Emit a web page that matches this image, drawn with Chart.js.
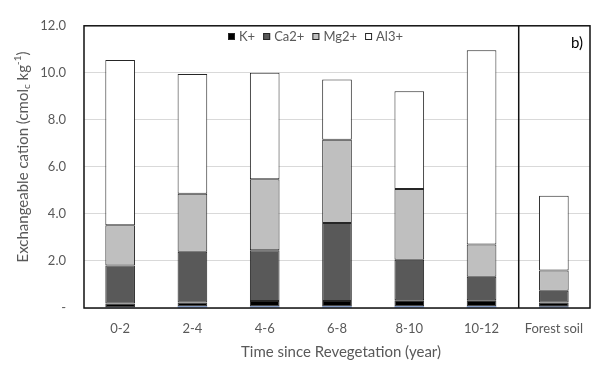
<!DOCTYPE html>
<html><head><meta charset="utf-8">
<script src="https://cdn.jsdelivr.net/npm/chart.js@4/dist/chart.umd.min.js"></script>
<style>html,body{margin:0;padding:0;background:#fff}</style>
</head><body>
<canvas id="c" width="596" height="365" style="width:596px;height:365px;display:block"></canvas>
<script>
const categories = ['0-2', '2-4', '4-6', '6-8', '8-10', '10-12', 'Forest soil'];
const naValues = [0.03, 0.06, 0.06, 0.06, 0.06, 0.06, 0.05];
const kValues  = [0.16, 0.17, 0.24, 0.24, 0.27, 0.27, 0.18];
const caValues = [1.62, 2.16, 2.16, 3.31, 1.72, 1.00, 0.50];
const mgValues = [1.71, 2.47, 3.01, 3.54, 3.01, 1.37, 0.86];
const alValues = [7.03, 5.09, 4.53, 2.57, 4.16, 8.26, 3.18];
const yTickLabels = ['-', '2.0', '4.0', '6.0', '8.0', '10.0', '12.0'];
const legendLabels = ['K+', 'Ca2+', 'Mg2+', 'Al3+'];
const xTitle = 'Time since Revegetation (year)';
const panelLabel = 'b)';

const FONT = 'Lato, "Open Sans", sans-serif';
const GREY = '#595959';

const overlay = {
  id: 'overlay',
  afterDraw(chart) {
    const ctx = chart.ctx, a = chart.chartArea, x = chart.scales.x;
    ctx.save();
    ctx.strokeStyle = '#111';
    ctx.lineWidth = 1.5;
    ctx.strokeRect(a.left, a.top, a.right - a.left, a.bottom - a.top);
    const xd = (x.getPixelForValue(5) + x.getPixelForValue(6)) / 2 + 1;
    ctx.beginPath(); ctx.moveTo(xd, a.top); ctx.lineTo(xd, a.bottom); ctx.stroke();
    const ds = chart.data.datasets.filter(d => legendLabels.includes(d.label));
    ctx.font = '13px ' + FONT;
    ctx.textBaseline = 'middle';
    let lx = 228; const ly = 37;
    ds.forEach(d => {
      ctx.fillStyle = d.backgroundColor;
      ctx.fillRect(lx, ly - 4, 7, 7);
      ctx.strokeStyle = '#262626'; ctx.lineWidth = 1;
      ctx.strokeRect(lx + 0.5, ly - 3.5, 6, 6);
      ctx.fillStyle = GREY;
      ctx.textAlign = 'left';
      ctx.fillText(d.label, lx + 11, ly);
      lx += 11 + ctx.measureText(d.label).width + 8;
    });
    ctx.fillStyle = '#000';
    ctx.font = '15px ' + FONT;
    ctx.textAlign = 'center';
    ctx.fillText(panelLabel, 577, 43);
    ctx.fillStyle = GREY;
    ctx.font = '15px ' + FONT;
    ctx.fillText(xTitle, 341, 352);
    const parts = [
      ['Exchangeable cation (cmol', 15, 0],
      ['c', 10, 4],
      [' kg', 15, 0],
      ['-1', 10, -5],
      [')', 15, 0]
    ];
    let total = 0;
    parts.forEach(p => { ctx.font = p[1] + 'px ' + FONT; total += ctx.measureText(p[0]).width; });
    ctx.translate(23, 157);
    ctx.rotate(-Math.PI / 2);
    ctx.textAlign = 'left';
    let px = -total / 2;
    parts.forEach(p => {
      ctx.font = p[1] + 'px ' + FONT;
      ctx.fillText(p[0], px, p[2]);
      px += ctx.measureText(p[0]).width;
    });
    ctx.restore();
  }
};

const mk = (label, data, color, bw) => ({
  label, data, backgroundColor: color, borderColor: '#262626', borderWidth: bw,
  barPercentage: 0.41, categoryPercentage: 1.0, borderSkipped: false
});

new Chart(document.getElementById('c'), {
  type: 'bar',
  data: {
    labels: categories,
    datasets: [
      mk('Na+', naValues, '#4472c4', 0),
      mk('K+', kValues, '#000000', 1),
      mk('Ca2+', caValues, '#595959', 1),
      mk('Mg2+', mgValues, '#bfbfbf', 1),
      mk('Al3+', alValues, '#ffffff', 1)
    ]
  },
  options: {
    responsive: false,
    devicePixelRatio: 1,
    animation: false,
    layout: { padding: { left: 0, right: -3, top: 16, bottom: 0 } },
    plugins: { legend: { display: false }, tooltip: { enabled: false } },
    scales: {
      x: {
        stacked: true,
        grid: { display: false, drawTicks: false },
        border: { display: false },
        ticks: { color: GREY, font: { size: 13, family: FONT }, padding: 13, maxRotation: 0, autoSkip: false },
        afterFit(s) { s.height = 57; }
      },
      y: {
        stacked: true,
        min: 0, max: 12,
        grid: { color: '#d9d9d9', lineWidth: 1, drawTicks: false },
        border: { display: false },
        ticks: {
          stepSize: 2, color: GREY, font: { size: 13, family: FONT }, padding: 18,
          callback: (v) => yTickLabels[Math.round(v / 2)]
        },
        afterFit(s) { s.width = 84; }
      }
    }
  },
  plugins: [overlay]
});
</script>
</body></html>
